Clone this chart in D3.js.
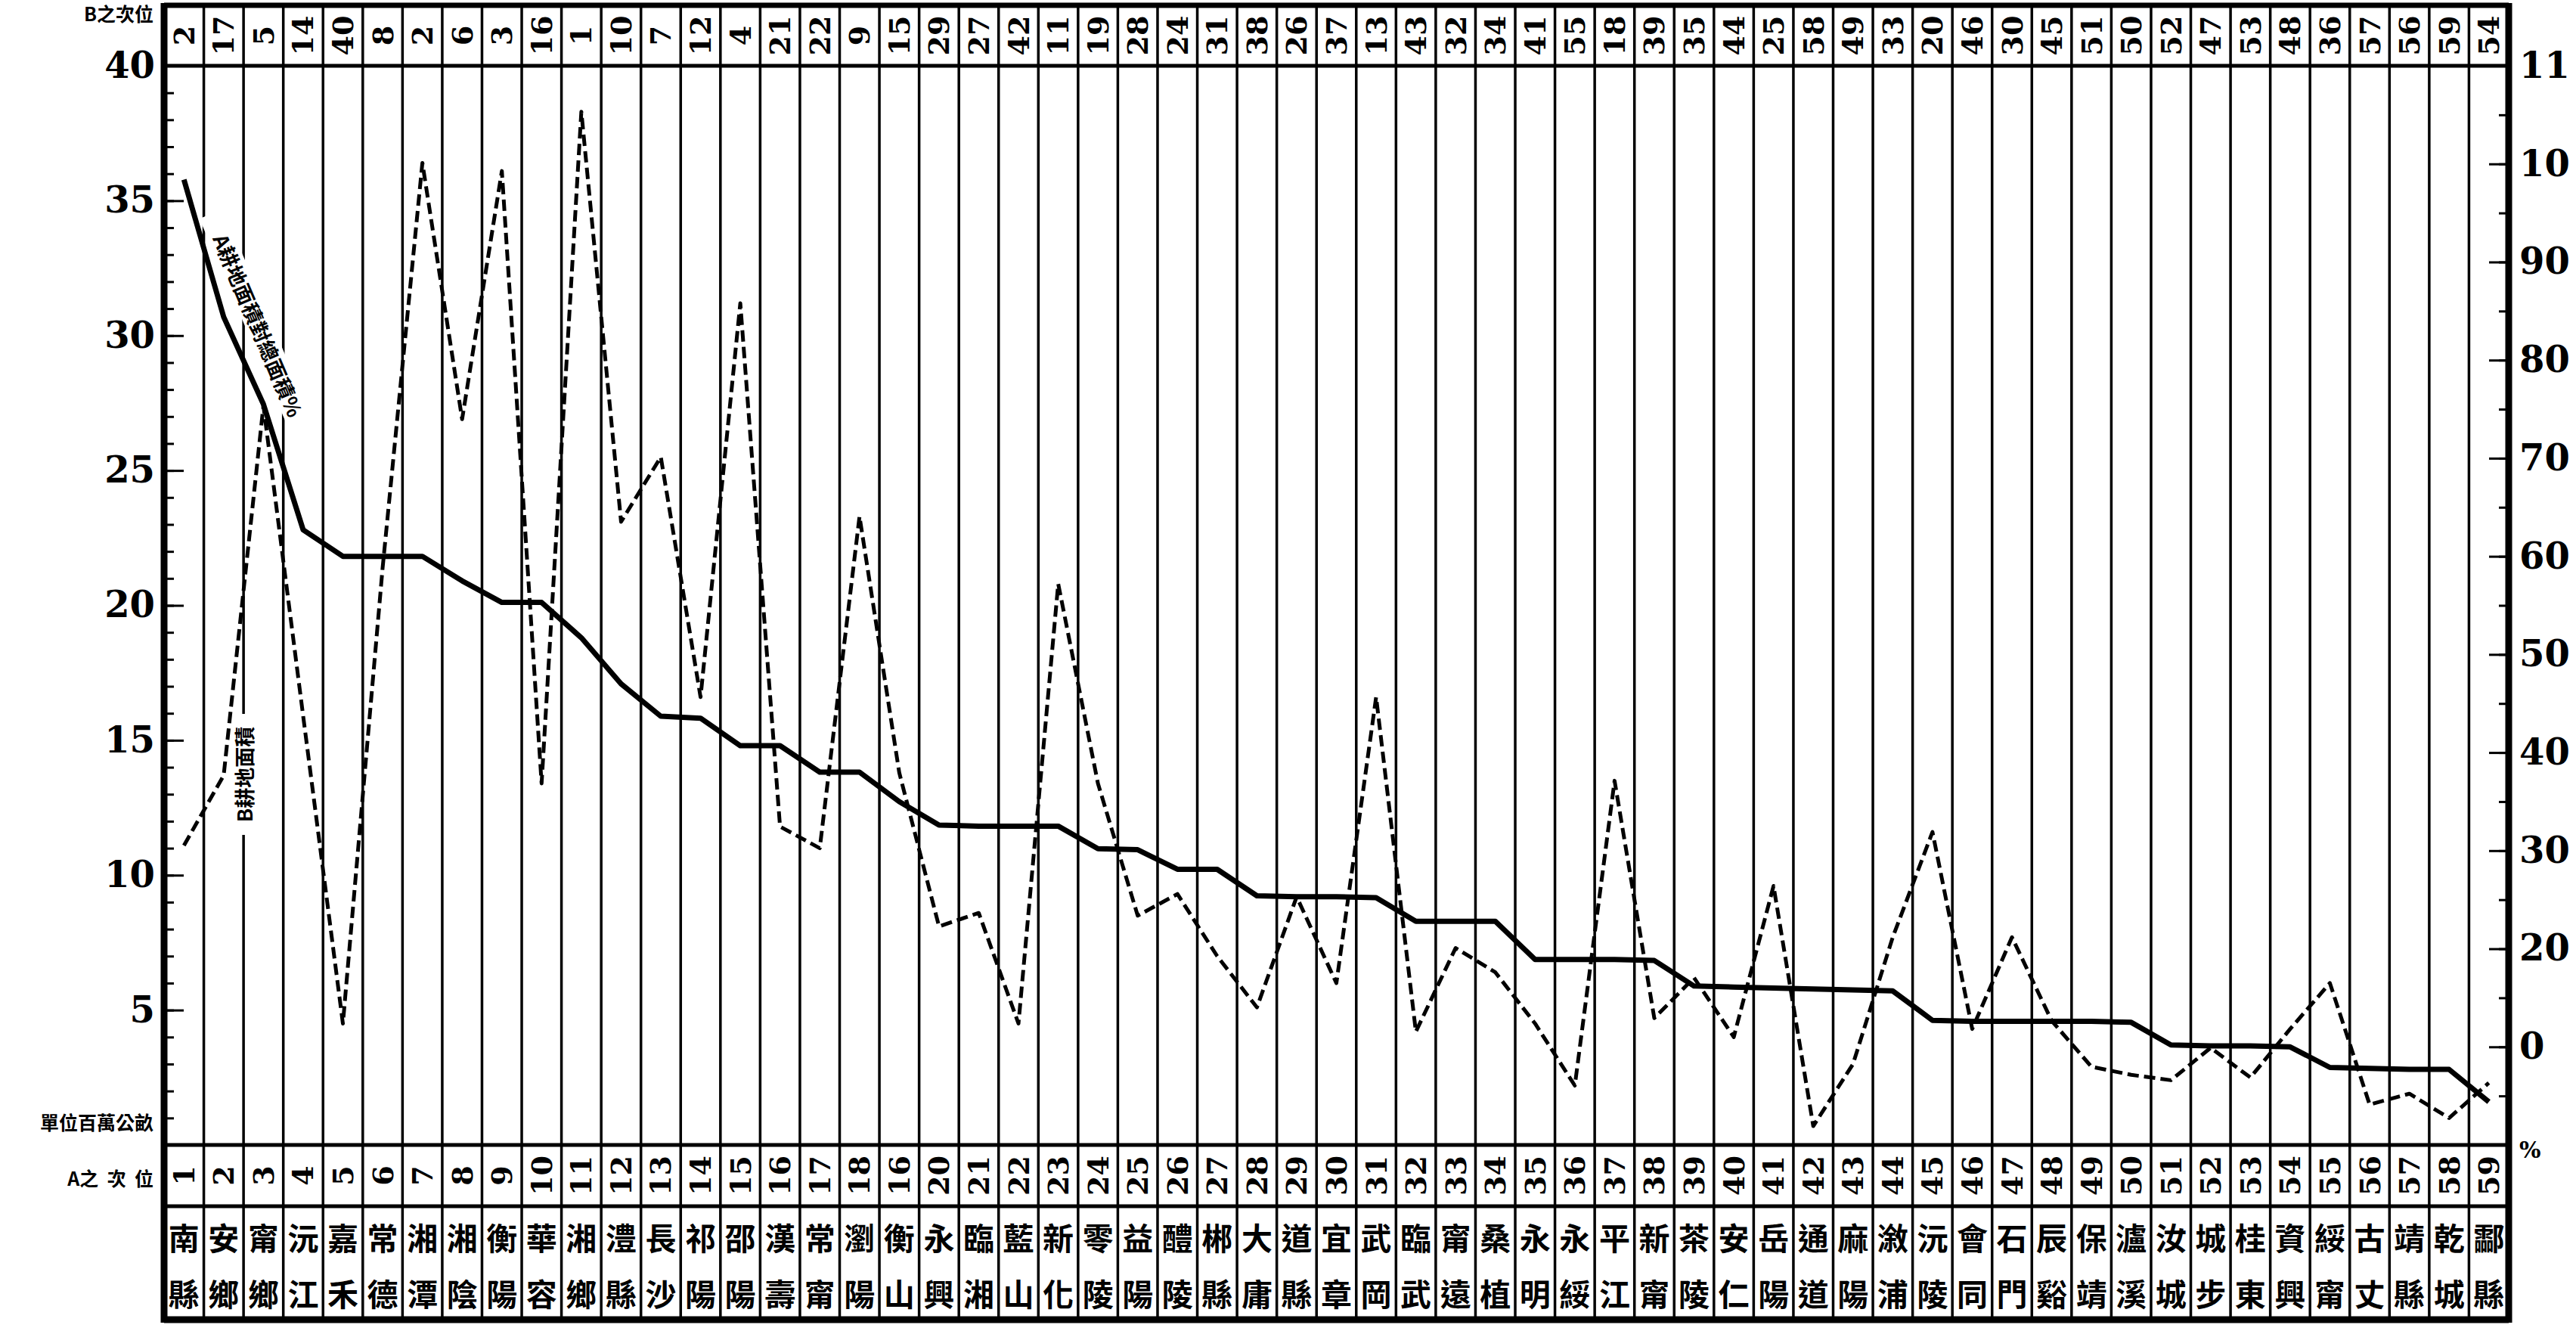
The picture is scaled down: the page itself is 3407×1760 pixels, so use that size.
<!DOCTYPE html>
<html>
<head>
<meta charset="utf-8">
<script src="https://cdn.jsdelivr.net/npm/d3@7"></script>
<style>
  html, body { margin: 0; padding: 0; background: #fff; }
  svg { display: block; }
</style>
</head>
<body>
<svg id="chart" width="3407" height="1760"></svg>
<script>
// county names, in order of A rank
const counties = ["南縣","安鄉","甯鄉","沅江","嘉禾","常德","湘潭","湘陰","衡陽","華容",
  "湘鄉","澧縣","長沙","祁陽","邵陽","漢壽","常甯","瀏陽","衡山","永興",
  "臨湘","藍山","新化","零陵","益陽","醴陵","郴縣","大庸","道縣","宜章",
  "武岡","臨武","甯遠","桑植","永明","永綏","平江","新甯","茶陵","安仁",
  "岳陽","通道","麻陽","漵浦","沅陵","會同","石門","辰谿","保靖","瀘溪",
  "汝城","城步","桂東","資興","綏甯","古丈","靖縣","乾城","酃縣"];

// rank rows as printed
const aRankLabels = ["1","2","3","4","5","6","7","8","9","10","11","12","13","14","15","16","17","18","16","20",
  "21","22","23","24","25","26","27","28","29","30","31","32","33","34","35","36","37","38","39","40",
  "41","42","43","44","45","46","47","48","49","50","51","52","53","54","55","56","57","58","59"];
const bRankLabels = ["2","17","5","14","40","8","2","6","3","16","1","10","7","12","4","21","22","9","15","29",
  "27","42","11","19","28","24","31","38","26","37","13","43","32","34","41","55","18","39","35","44",
  "25","58","49","33","20","46","30","45","51","50","52","47","53","48","36","57","56","59","54"];

// A: 耕地面積對總面積 (%), right axis
const aPercent = [98.4, 84.4, 75.5, 62.7, 60.0, 60.0, 60.0, 57.5, 55.3, 55.3,
  51.7, 47.0, 43.7, 43.5, 40.7, 40.7, 38.0, 38.0, 35.0, 32.6,
  32.5, 32.5, 32.5, 30.2, 30.1, 28.1, 28.1, 25.4, 25.3, 25.3,
  25.2, 22.8, 22.8, 22.8, 18.9, 18.9, 18.9, 18.8, 16.2, 16.1,
  16.0, 15.9, 15.8, 15.7, 12.7, 12.6, 12.6, 12.6, 12.6, 12.5,
  10.2, 10.1, 10.1, 10.0, 7.9, 7.8, 7.7, 7.7, 4.4];

// B: 耕地面積 (百萬公畝), left axis
const bArea = [11.1, 13.7, 27.4, 15.9, 4.5, 21.4, 36.4, 26.9, 36.1, 13.4,
  38.3, 23.1, 25.5, 16.6, 31.2, 11.8, 11.0, 23.3, 13.8, 8.1,
  8.6, 4.5, 20.8, 13.4, 8.5, 9.3, 7.0, 5.1, 9.2, 6.0,
  16.6, 4.2, 7.3, 6.4, 4.5, 2.2, 13.5, 4.7, 6.2, 4.0,
  9.6, 0.7, 3.0, 7.7, 11.6, 4.3, 7.7, 4.6, 2.9, 2.6,
  2.4, 3.6, 2.5, 4.3, 6.0, 1.5, 1.9, 1.0, 2.3];

const leftTicks = [5, 10, 15, 20, 25, 30, 35, 40];
const rightTicks = [0, 10, 20, 30, 40, 50, 60, 70, 80, 90, 100, 110];
const rightTickLabels = ["%", "0", "20", "30", "40", "50", "60", "70", "80", "90", "10", "11"];

const numFont = "'DejaVu Serif', 'Liberation Serif', serif";
const cjkFont = "'Noto Sans CJK TC', 'Noto Sans CJK SC', sans-serif";

const left = 217, right = 3318;
const frameTop = 7, plotTop = 87, plotBottom = 1514, rankBottom = 1595, frameBottom = 1745;

const svg = d3.select("#chart");

const x = d3.scaleBand().domain(d3.range(counties.length)).range([left, right]).paddingInner(0);
const cx = i => x(i) + x.bandwidth() / 2;
const yL = d3.scaleLinear().domain([0, 40]).range([plotBottom, plotTop]);
const yR = d3.scaleLinear().domain([0, 110]).range([plotBottom, plotTop]);

// column grid
const grid = svg.append("g").attr("stroke", "#000");
grid.selectAll("line.col")
  .data(d3.range(1, counties.length))
  .enter().append("line")
  .attr("class", "col")
  .attr("x1", i => x(i)).attr("x2", i => x(i))
  .attr("y1", frameTop).attr("y2", frameBottom)
  .attr("stroke-width", 3.5);

// horizontal rules
[[frameTop, 7], [plotTop, 5], [plotBottom, 5], [rankBottom, 5], [frameBottom, 9]].forEach(([y, w]) => {
  grid.append("line")
    .attr("x1", left).attr("x2", right)
    .attr("y1", y).attr("y2", y)
    .attr("stroke-width", w);
});

// axes
function styleAxis(g) {
  g.select(".domain").remove();
  g.selectAll(".tick line").attr("stroke", "#000").attr("stroke-width", 3);
  g.selectAll(".tick text")
    .attr("fill", "#000")
    .attr("font-family", numFont)
    .attr("font-weight", "bold")
    .attr("font-size", 48);
}

svg.append("g").attr("transform", `translate(${left},0)`)
  .call(d3.axisLeft(yL).tickValues(d3.range(0, 41)).tickSize(-13).tickFormat(""))
  .call(styleAxis);
svg.append("g").attr("transform", `translate(${left},0)`)
  .call(d3.axisLeft(yL).tickValues(leftTicks).tickSize(-26).tickPadding(12).tickFormat(d3.format("d")))
  .call(styleAxis);

svg.append("g").attr("transform", `translate(${right},0)`)
  .call(d3.axisRight(yR).tickValues(d3.range(0, 111, 5)).tickSize(-13).tickFormat(""))
  .call(styleAxis);
const rAxis = svg.append("g").attr("transform", `translate(${right},0)`)
  .call(d3.axisRight(yR).tickValues(rightTicks).tickSize(-26).tickPadding(14)
    .tickFormat((d, i) => rightTickLabels[i]))
  .call(styleAxis);
rAxis.selectAll(".tick text").filter(d => d === 0)
  .attr("font-size", 30).attr("dy", "0.55em");

// frame verticals
[left, right].forEach(xx => {
  svg.append("line")
    .attr("x1", xx).attr("x2", xx)
    .attr("y1", frameTop - 3).attr("y2", frameBottom + 4)
    .attr("stroke", "#000").attr("stroke-width", 9);
});

// rank rows, digits turned on their side
function rankRow(labels, yMid) {
  svg.append("g").selectAll("text")
    .data(labels)
    .enter().append("text")
    .attr("transform", (d, i) => `translate(${cx(i)},${yMid}) rotate(-90)`)
    .attr("text-anchor", "middle")
    .attr("dominant-baseline", "central")
    .attr("font-family", numFont)
    .attr("font-weight", "bold")
    .attr("font-size", 38)
    .text(d => d);
}
rankRow(bRankLabels, (frameTop + plotTop) / 2);
rankRow(aRankLabels, (plotBottom + rankBottom) / 2);

// county names, two characters stacked
const nameG = svg.append("g")
  .attr("font-family", cjkFont)
  .attr("font-weight", "bold")
  .attr("font-size", 41)
  .attr("text-anchor", "middle")
  .attr("dominant-baseline", "central");
counties.forEach((name, i) => {
  nameG.append("text").attr("x", cx(i)).attr("y", rankBottom + 40).text(name[0]);
  nameG.append("text").attr("x", cx(i)).attr("y", frameBottom - 36).text(name[1]);
});

// side captions
const capG = svg.append("g")
  .attr("font-family", cjkFont)
  .attr("font-weight", "bold")
  .attr("font-size", 25)
  .attr("text-anchor", "end");
capG.append("text").attr("x", 203).attr("y", 28).text("B之次位");
capG.append("text").attr("x", 203).attr("y", 1494).text("單位百萬公畝");
capG.append("text").attr("x", 203).attr("y", 1568).attr("xml:space", "preserve").text("A之  次  位");

// line labels (white backing interrupts the grid lines)
const bLabelX = x(2), bLabelY = 1024;
svg.append("rect")
  .attr("x", bLabelX - 17).attr("y", bLabelY - 80)
  .attr("width", 34).attr("height", 160)
  .attr("fill", "#fff");
svg.append("text")
  .attr("transform", `translate(${bLabelX},${bLabelY}) rotate(-90)`)
  .attr("text-anchor", "middle")
  .attr("dominant-baseline", "central")
  .attr("font-family", cjkFont)
  .attr("font-weight", "bold")
  .attr("font-size", 27)
  .text("B耕地面積");

const aLabelX = 342, aLabelY = 430, aAngle = 67;
svg.append("rect")
  .attr("transform", `translate(${aLabelX},${aLabelY}) rotate(${aAngle})`)
  .attr("x", -160).attr("y", -17)
  .attr("width", 320).attr("height", 34)
  .attr("fill", "#fff");
svg.append("text")
  .attr("transform", `translate(${aLabelX},${aLabelY}) rotate(${aAngle})`)
  .attr("text-anchor", "middle")
  .attr("dominant-baseline", "central")
  .attr("font-family", cjkFont)
  .attr("font-weight", "bold")
  .attr("font-size", 27)
  .text("A耕地面積對總面積%");

// data lines
const lineA = d3.line().x((d, i) => cx(i)).y(d => yR(d));
const lineB = d3.line().x((d, i) => cx(i)).y(d => yL(d));

svg.append("path")
  .datum(bArea)
  .attr("d", lineB)
  .attr("fill", "none")
  .attr("stroke", "#000")
  .attr("stroke-width", 5)
  .attr("stroke-dasharray", "15,7")
  .attr("stroke-linejoin", "round");

svg.append("path")
  .datum(aPercent)
  .attr("d", lineA)
  .attr("fill", "none")
  .attr("stroke", "#000")
  .attr("stroke-width", 7)
  .attr("stroke-linejoin", "round");
</script>
</body>
</html>
